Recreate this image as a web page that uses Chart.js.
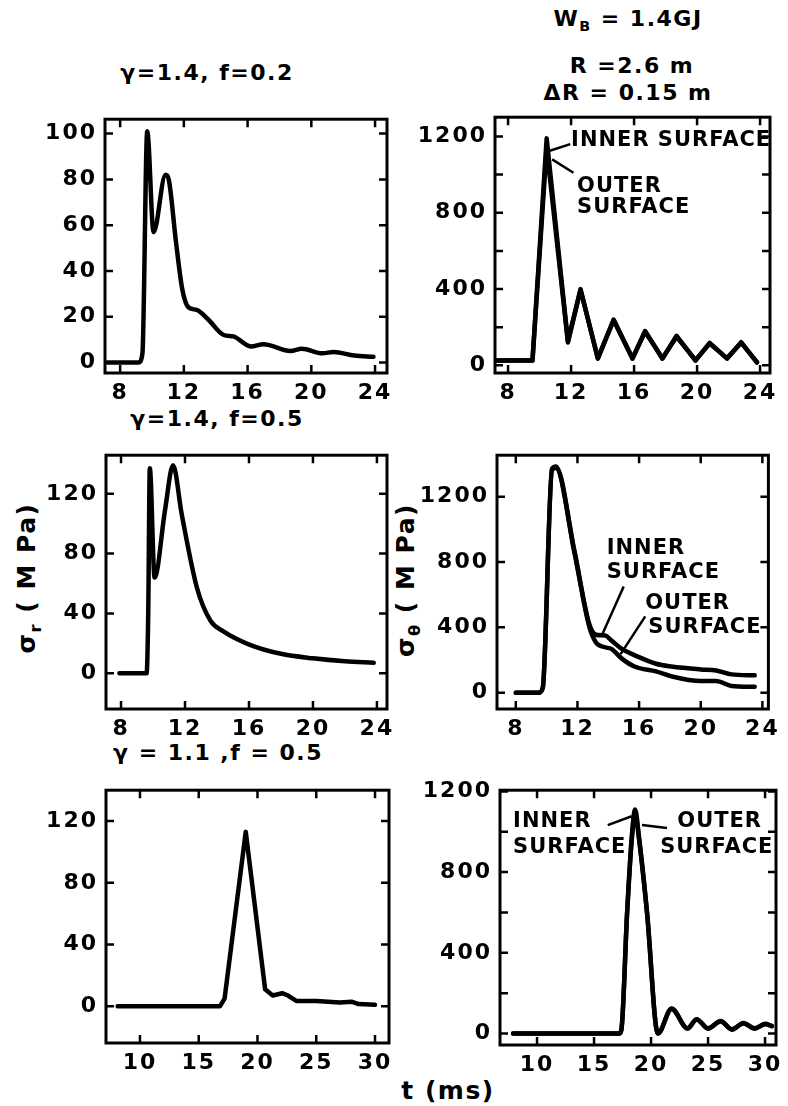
<!DOCTYPE html>
<html>
<head>
<meta charset="utf-8">
<script src="https://cdn.jsdelivr.net/npm/chart.js@4/dist/chart.umd.min.js"></script>
<style>
  body { margin: 0; background: #fff; width: 788px; height: 1106px; position: relative; overflow: hidden;
         font-family: "DejaVu Sans", sans-serif; font-weight: bold; color: #000; }
  canvas { position: absolute; }
  .lbl { position: absolute; transform: translate(-50%, -50%); white-space: nowrap; font-size: 22px; letter-spacing: 1.5px; }
  .rot { transform: translate(-50%, -50%) rotate(-90deg); font-size: 25px; }
  sub { font-size: 0.65em; }
</style>
</head>
<body>
<div class="lbl" style="left:207px;top:72px">γ=1.4, f=0.2</div>
<div class="lbl" style="left:217px;top:418px">γ=1.4, f=0.5</div>
<div class="lbl" style="left:218px;top:752px">γ = 1.1 ,f = 0.5</div>
<div class="lbl" style="left:628px;top:20px">W<sub>B</sub> = 1.4GJ</div>
<div class="lbl" style="left:632px;top:65px">R =2.6 m</div>
<div class="lbl" style="left:628px;top:92px">ΔR = 0.15 m</div>
<div class="lbl rot" style="left:28px;top:578px">σ<sub>r</sub> ( M Pa)</div>
<div class="lbl rot" style="left:407px;top:580px">σ<sub>θ</sub> ( M Pa)</div>
<div class="lbl" style="left:448px;top:1090px;font-size:25px">t (ms)</div>

<canvas id="c1"></canvas>
<canvas id="c2"></canvas>
<canvas id="c3"></canvas>
<canvas id="c4"></canvas>
<canvas id="c5"></canvas>
<canvas id="c6"></canvas>

<script>
// ---- dados (tempo em ms, tensão em MPa) ----
var p1Time   = [7.2, 9.15, 9.4, 9.7, 10.1, 10.85, 11.05, 11.5, 11.9, 12.3, 12.8, 13.5, 14.5, 15.1, 16.2, 17.0, 18.7, 19.4, 20.7, 21.4, 22.7, 23.9];
var p1Stress = [0, 0, 4, 101, 57, 82, 80, 53, 32, 24, 23, 19, 12, 11.4, 7, 8, 5, 6, 4, 4.6, 3, 2.5];

var p2Time   = [7.2, 9.55, 10.45, 11.8, 12.6, 13.7, 14.7, 15.9, 16.7, 17.8, 18.7, 19.9, 20.8, 21.9, 22.8, 23.8];
var p2Inner  = [25, 25, 1190, 127, 400, 35, 240, 35, 180, 35, 155, 25, 118, 35, 122, 15];
var p2Outer  = [25, 25, 1140, 120, 395, 38, 236, 38, 176, 38, 150, 28, 115, 38, 118, 18];

var p3Time   = [7.9, 9.6, 9.7, 9.8, 10.1, 10.75, 11.25, 11.8, 12.75, 13.6, 14.4, 16.06, 18, 20, 22, 23.8];
var p3Stress = [0, 0, 40, 137, 64, 109, 139, 106, 57, 35, 28, 19, 13, 10, 8, 7];

var p4Time   = [8, 9.5, 9.75, 10.35, 10.6, 11.8, 12.75, 13.2, 13.8, 14.2, 14.9, 15.7, 17.1, 18.1, 20, 21, 22, 23.5];
var p4Inner  = [0, 0, 30, 1370, 1385, 870, 425, 355, 350, 320, 266, 230, 177, 160, 142, 136, 112, 106];
var p4Outer  = [0, 0, 30, 1365, 1375, 860, 410, 307, 278, 268, 207, 160, 130, 100, 71, 71, 41, 36];

var p5Time   = [8.1, 16.8, 17.2, 19.0, 20.65, 21.3, 22.1, 22.6, 23.3, 25, 27, 28, 28.6, 30];
var p5Stress = [0, 0, 5, 113, 11, 7, 8.5, 7, 3.5, 3.5, 2.5, 3, 1.5, 1];

var p6Time   = [7.9, 17.2, 17.4, 17.9, 18.3, 18.6, 18.95, 19.65, 20.6, 21.8, 23.2, 24.0, 25, 26.1, 27.1, 28.1, 29.1, 30, 30.6];
var p6Inner  = [0, 0, 20, 600, 970, 1110, 970, 600, 0, 124, 24, 71, 24, 62, 19, 52, 24, 48, 38];
var p6Outer  = [0, 0, 20, 595, 955, 1085, 960, 595, 0, 122, 26, 70, 26, 60, 21, 50, 26, 46, 36];

// ---- eixos ----
var xTicksA  = [8, 12, 16, 20, 24];
var xLabelsA = ['8', '12', '16', '20', '24'];
var xTicksB  = [10, 15, 20, 25, 30];
var xLabelsB = ['10', '15', '20', '25', '30'];
var p1YTicks  = [0, 20, 40, 60, 80, 100];
var p1YLabels = ['0', '20', '40', '60', '80', '100'];
var p2YTicks  = [0, 200, 400, 600, 800, 1000, 1200];
var p2YLabels = ['0', '', '400', '', '800', '', '1200'];
var p3YTicks  = [0, 40, 80, 120];
var p3YLabels = ['0', '40', '80', '120'];
var p4YTicks  = [0, 400, 800, 1200];
var p4YLabels = ['0', '400', '800', '1200'];

var AXIS_W = 92, AXIS_H = 44, PAD_T = 12, PAD_R = 14, TICK = 8;

Chart.defaults.font.family = '"DejaVu Sans", sans-serif';
Chart.defaults.font.size = 22;
Chart.defaults.font.weight = 'bold';
Chart.defaults.color = '#000';

// moldura com marcas para dentro + anotações
var frame = {
  id: 'frame',
  beforeDraw: function (chart) { chart.ctx.letterSpacing = '2px'; },
  afterDraw: function (chart, args, opts) {
    var ctx = chart.ctx, a = chart.chartArea, xs = chart.scales.x, ys = chart.scales.y;
    ctx.save();
    ctx.strokeStyle = '#000';
    ctx.lineWidth = 3;
    ctx.strokeRect(a.left, a.top, a.right - a.left, a.bottom - a.top);
    ctx.lineWidth = 2.5;
    ctx.beginPath();
    xs.ticks.forEach(function (t) {
      var p = xs.getPixelForValue(t.value);
      ctx.moveTo(p, a.bottom); ctx.lineTo(p, a.bottom - TICK);
      ctx.moveTo(p, a.top); ctx.lineTo(p, a.top + TICK);
    });
    ys.ticks.forEach(function (t) {
      var p = ys.getPixelForValue(t.value);
      ctx.moveTo(a.left, p); ctx.lineTo(a.left + TICK, p);
      ctx.moveTo(a.right, p); ctx.lineTo(a.right - TICK, p);
    });
    ctx.stroke();
    ctx.letterSpacing = '1px';
    ctx.font = 'bold 21px "DejaVu Sans"';
    ctx.fillStyle = '#000';
    ctx.textBaseline = 'middle';
    ctx.textAlign = 'left';
    (opts.notes || []).forEach(function (n) {
      if (n.text) {
        ctx.fillText(n.text, xs.getPixelForValue(n.x), ys.getPixelForValue(n.y));
      } else {
        ctx.lineWidth = 2.5;
        ctx.beginPath();
        ctx.moveTo(xs.getPixelForValue(n.x1), ys.getPixelForValue(n.y1));
        ctx.lineTo(xs.getPixelForValue(n.x2), ys.getPixelForValue(n.y2));
        ctx.stroke();
      }
    });
    ctx.restore();
  }
};

function painel(id, box, xr, yr, series, notes) {
  var cv = document.getElementById(id);
  cv.width = box.w + AXIS_W + PAD_R;
  cv.height = box.h + PAD_T + AXIS_H;
  cv.style.left = (box.x - AXIS_W) + 'px';
  cv.style.top = (box.y - PAD_T) + 'px';
  return new Chart(cv, {
    type: 'line',
    data: {
      datasets: series.map(function (s) {
        return {
          data: s.t.map(function (t, i) { return { x: t, y: s.v[i] }; }),
          borderColor: '#000', borderWidth: 4.5, pointRadius: 0,
          borderJoinStyle: 'round', borderCapStyle: 'round',
          cubicInterpolationMode: s.smooth ? 'monotone' : 'default',
          tension: 0, fill: false
        };
      })
    },
    options: {
      responsive: false, animation: false, events: [],
      layout: { padding: { top: PAD_T, right: PAD_R, left: 0, bottom: 0 } },
      plugins: { legend: { display: false }, tooltip: { enabled: false }, frame: { notes: notes || [] } },
      scales: {
        x: {
          type: 'linear', min: xr.min, max: xr.max,
          grid: { display: false, drawTicks: false }, border: { display: false },
          afterBuildTicks: function (s) { s.ticks = xr.ticks.map(function (v) { return { value: v }; }); },
          afterFit: function (s) { s.height = AXIS_H; },
          ticks: { autoSkip: false, maxRotation: 0, padding: 7,
                   callback: function (v, i) { return xr.labels[i]; } }
        },
        y: {
          type: 'linear', min: yr.min, max: yr.max,
          grid: { display: false, drawTicks: false }, border: { display: false },
          afterBuildTicks: function (s) { s.ticks = yr.ticks.map(function (v) { return { value: v }; }); },
          afterFit: function (s) { s.width = AXIS_W; },
          ticks: { autoSkip: false, padding: 8,
                   callback: function (v, i) { return yr.labels[i]; } }
        }
      }
    },
    plugins: [frame]
  });
}

painel('c1', { x: 105, y: 110, w: 282, h: 263 },
  { min: 7.05, max: 24.75, ticks: xTicksA, labels: xLabelsA },
  { min: -4.6, max: 106.3, ticks: p1YTicks, labels: p1YLabels },
  [{ t: p1Time, v: p1Stress, smooth: true }]);

painel('c2', { x: 495, y: 108, w: 275, h: 265 },
  { min: 7.17, max: 24.63, ticks: xTicksA, labels: xLabelsA },
  { min: -40, max: 1301, ticks: p2YTicks, labels: p2YLabels },
  [{ t: p2Time, v: p2Inner }, { t: p2Time, v: p2Outer }],
  [{ text: 'INNER SURFACE', x: 12.0, y: 1180 },
   { x1: 11.95, y1: 1160, x2: 10.65, y2: 1125 },
   { x1: 12.15, y1: 1010, x2: 10.8, y2: 1080 },
   { text: 'OUTER', x: 12.38, y: 937 },
   { text: 'SURFACE', x: 12.38, y: 825 }]);

painel('c3', { x: 106, y: 446, w: 281, h: 263 },
  { min: 7.06, max: 24.63, ticks: xTicksA, labels: xLabelsA },
  { min: -23.9, max: 145.8, ticks: p3YTicks, labels: p3YLabels },
  [{ t: p3Time, v: p3Stress, smooth: true }]);

painel('c4', { x: 497, y: 446, w: 274, h: 263 },
  { min: 6.78, max: 24.39, ticks: xTicksA, labels: xLabelsA },
  { min: -100, max: 1454, ticks: p4YTicks, labels: p4YLabels },
  [{ t: p4Time, v: p4Inner, smooth: true }, { t: p4Time, v: p4Outer, smooth: true }],
  [{ text: 'INNER', x: 13.9, y: 880 },
   { text: 'SURFACE', x: 13.9, y: 733 },
   { text: 'OUTER', x: 16.4, y: 544 },
   { text: 'SURFACE', x: 16.6, y: 396 },
   { x1: 15.0, y1: 650, x2: 13.6, y2: 355 },
   { x1: 16.4, y1: 467, x2: 14.8, y2: 236 }]);

painel('c5', { x: 106, y: 781, w: 283, h: 262 },
  { min: 7.11, max: 31.19, ticks: xTicksB, labels: xLabelsB },
  { min: -23.75, max: 140, ticks: p3YTicks, labels: p3YLabels },
  [{ t: p5Time, v: p5Stress }]);

painel('c6', { x: 500, y: 781, w: 276, h: 264 },
  { min: 6.75, max: 30.96, ticks: xTicksB, labels: xLabelsB },
  { min: -57, max: 1206, ticks: p2YTicks, labels: p2YLabels },
  [{ t: p6Time, v: p6Inner, smooth: true }, { t: p6Time, v: p6Outer, smooth: true }],
  [{ text: 'INNER', x: 7.9, y: 1053 },
   { text: 'SURFACE', x: 7.9, y: 923 },
   { text: 'OUTER', x: 22.3, y: 1053 },
   { text: 'SURFACE', x: 20.8, y: 923 },
   { x1: 16.2, y1: 1033, x2: 18.3, y2: 1077 },
   { x1: 19.2, y1: 1033, x2: 21.4, y2: 1019 }]);
</script>
</body>
</html>
